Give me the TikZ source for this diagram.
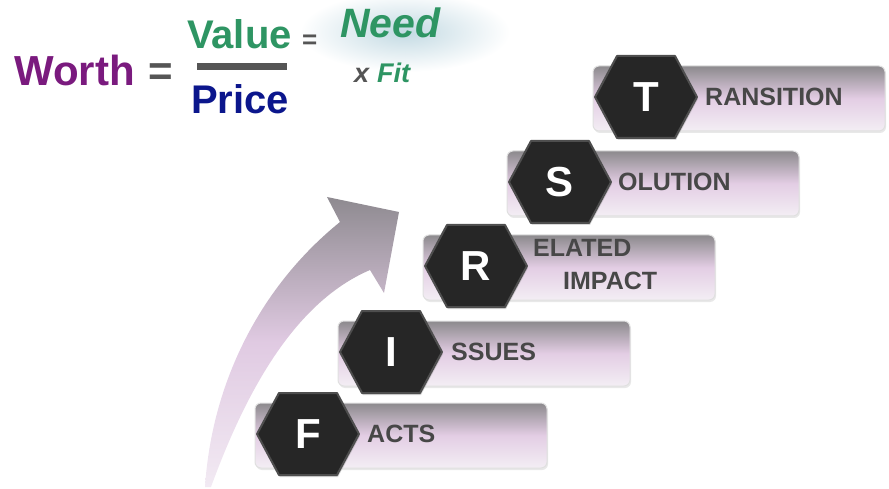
\documentclass[tikz,border=0pt]{standalone}
\usepackage{fontspec}
\setmainfont{Liberation Sans}
\usetikzlibrary{shadows}
\definecolor{worthpurple}{HTML}{7A1A7E}
\definecolor{valgreen}{HTML}{2E9563}
\definecolor{pricenavy}{HTML}{0B168C}
\definecolor{opgray}{HTML}{555555}
\definecolor{hexfill}{HTML}{262626}
\definecolor{hexedge}{HTML}{4E4E4E}
\definecolor{labelgray}{HTML}{474747}
\definecolor{bartop}{HTML}{8C8A8D}
\definecolor{barmid}{HTML}{E3CDE4}
\definecolor{barbot}{HTML}{F3EEF4}
\definecolor{arrowtop}{HTML}{8E8A90}
\definecolor{arrowmid}{HTML}{E0CAE2}
\definecolor{arrowbot}{HTML}{F2EAF3}
\definecolor{glowblue}{HTML}{C3DAE3}
\tikzset{
  stepbar/.style={rounded corners=6pt, draw=black!12, line width=1pt,
    top color=bartop, bottom color=barbot, middle color=barmid,
    drop shadow={opacity=0.18, shadow xshift=1pt, shadow yshift=-2pt}},
  hexbadge/.style={fill=hexfill, draw=hexedge, line width=2pt, line join=round,
    drop shadow={opacity=0.3, shadow xshift=1pt, shadow yshift=-2pt}},
  hexletter/.style={text=white, font=\bfseries\fontsize{42}{42}\selectfont, inner sep=0pt},
  steplabel/.style={text=labelgray, font=\bfseries\fontsize{25}{25}\selectfont, inner sep=0pt, anchor=west},
  eqtext/.style={inner sep=0pt, anchor=base west},
}
\begin{document}
\begin{tikzpicture}[x=1pt, y=-1pt]
\useasboundingbox (0,0) rectangle (889,489);

% soft halo behind "Need"
\shade[inner color=glowblue, outer color=white] (405,32) ellipse [x radius=105, y radius=40];

% formula
\node[eqtext, text=worthpurple, font=\bfseries\fontsize{42}{42}\selectfont] (worth) at (14,86) {Worth};
\node[eqtext, text=opgray, font=\bfseries\fontsize{42}{42}\selectfont] (eqa) at (148,86) {=};
\node[eqtext, text=valgreen, font=\bfseries\fontsize{40}{40}\selectfont] (value) at (187,49) {Value};
\fill[opgray] (197,63.5) rectangle (287,70.5);
\node[eqtext, text=pricenavy, font=\bfseries\fontsize{40}{40}\selectfont] (price) at (191,114) {Price};
\node[eqtext, text=opgray, font=\bfseries\fontsize{26}{26}\selectfont] (eqb) at (302,49) {=};
\node[eqtext, text=valgreen, font=\bfseries\itshape\fontsize{41}{41}\selectfont] (need) at (340,38) {Need};
\node[eqtext, text=opgray, font=\bfseries\itshape\fontsize{27}{27}\selectfont] (times) at (354,83) {x};
\node[eqtext, text=valgreen, font=\bfseries\itshape\fontsize{27}{27}\selectfont] (fit) at (377,83) {Fit};

% rising arrow
\shade[top color=arrowtop, bottom color=arrowbot, middle color=arrowmid]
  (205,487) .. controls (212,380) and (262,285) .. (340,222)
  -- (327,197) -- (399,212) -- (384,293) -- (370,270)
  .. controls (300,300) and (250,380) .. (211,487) -- cycle;

% steps: bar, hexagon badge, letter
\foreach \hx/\hy/\ltr/\nm in {308/434/F/f, 391/352/I/i, 476/266/R/r, 560/182/S/s, 646/97/T/t}{
  \path[stepbar] (\hx-53,\hy-31) rectangle (\hx+239,\hy+34);
  \path[hexbadge] (\hx-51,\hy) -- (\hx-29,\hy-41) -- (\hx+29,\hy-41)
     -- (\hx+51,\hy) -- (\hx+29,\hy+41) -- (\hx-29,\hy+41) -- cycle;
  \node[hexletter] (hex\nm) at (\hx,\hy) {\ltr};
}
% step labels
\node[steplabel] (lf) at (367,434) {ACTS};
\node[steplabel] (li) at (451,352) {SSUES};
\node[steplabel] (lra) at (533,248) {ELATED};
\node[steplabel] (lrb) at (563,281) {IMPACT};
\node[steplabel] (ls) at (618,182) {OLUTION};
\node[steplabel] (lt) at (705,97) {RANSITION};
\end{tikzpicture}
\end{document}
